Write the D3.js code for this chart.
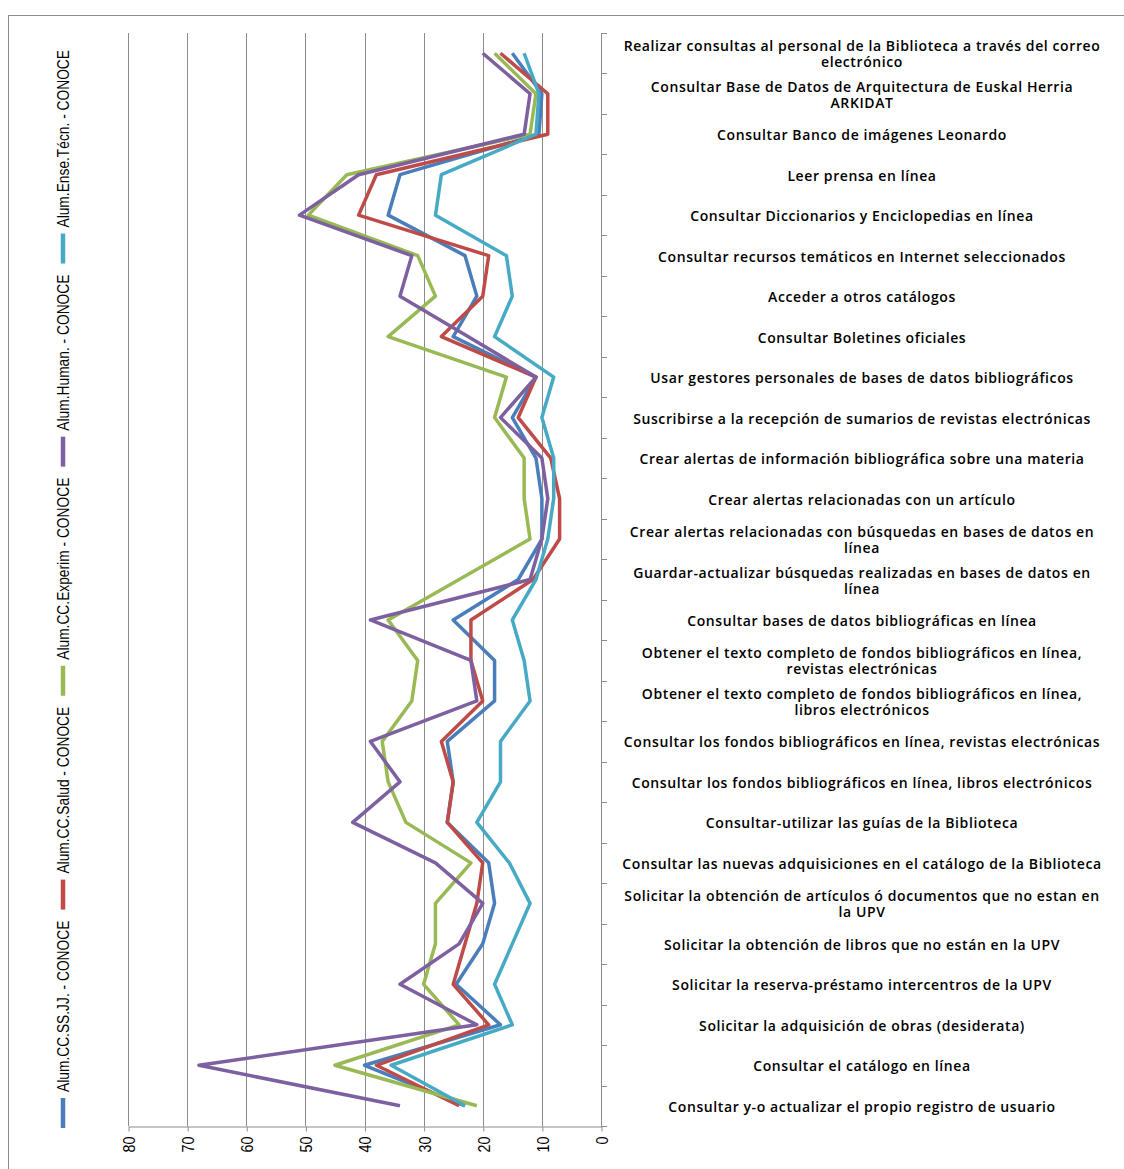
<!DOCTYPE html>
<html>
<head>
<meta charset="utf-8">
<script src="https://cdn.jsdelivr.net/npm/d3@7"></script>
<style>
  html, body { margin:0; padding:0; background:#fff; }
  svg { display:block; }
</style>
</head>
<body>
<svg width="1124" height="1169"></svg>
<script>
// Categories (top to bottom), line breaks as in the original labels
const categories = [
  'Realizar consultas al personal de la Biblioteca a través del correo\nelectrónico',
  'Consultar Base de Datos de Arquitectura de Euskal Herria\nARKIDAT',
  'Consultar Banco de imágenes Leonardo',
  'Leer prensa en línea',
  'Consultar Diccionarios y Enciclopedias en línea',
  'Consultar recursos temáticos en Internet seleccionados',
  'Acceder a otros catálogos',
  'Consultar Boletines oficiales',
  'Usar gestores personales de bases de datos bibliográficos',
  'Suscribirse a la recepción de sumarios de revistas electrónicas',
  'Crear alertas de información bibliográfica sobre una materia',
  'Crear alertas relacionadas con un artículo',
  'Crear alertas relacionadas con búsquedas en bases de datos en\nlínea',
  'Guardar-actualizar búsquedas realizadas en bases de datos en\nlínea',
  'Consultar bases de datos bibliográficas en línea',
  'Obtener el texto completo de fondos bibliográficos en línea,\nrevistas electrónicas',
  'Obtener el texto completo de fondos bibliográficos en línea,\nlibros electrónicos',
  'Consultar los fondos bibliográficos en línea, revistas electrónicas',
  'Consultar los fondos bibliográficos en línea, libros electrónicos',
  'Consultar-utilizar las guías de la Biblioteca',
  'Consultar las nuevas adquisiciones en el catálogo de la Biblioteca',
  'Solicitar la obtención de artículos ó documentos que no estan en\nla UPV',
  'Solicitar la obtención de libros que no están en la UPV',
  'Solicitar la reserva-préstamo intercentros de la UPV',
  'Solicitar la adquisición de obras (desiderata)',
  'Consultar el catálogo en línea',
  'Consultar y-o actualizar el propio registro de usuario'
];

const seriesNames = [
  'Alum.CC.SS.JJ. - CONOCE',
  'Alum.CC.Salud - CONOCE',
  'Alum.CC.Experim - CONOCE',
  'Alum.Human. - CONOCE',
  'Alum.Ense.Técn. - CONOCE'
];

// Series values, same order as categories
const ssjj    = [15, 10, 10.5, 34, 36, 23, 21, 25, 11, 15, 11, 10, 10, 14, 25, 18, 18, 26, 25, 26, 19, 18, 20, 24.5, 17, 40, 23];
const salud   = [17, 9, 9, 38, 41, 19, 20, 27, 11, 14, 8.5, 7, 7, 11.5, 22, 22, 20, 27, 25, 26, 20, 21, 23, 25, 19, 38, 24];
const experim = [18, 11, 12, 43, 49.5, 31, 28, 36, 16, 18, 13, 13, 12, 24, 36, 31, 32, 37, 36, 33, 22, 28, 28, 30, 24, 45, 21];
const human   = [20, 12, 13, 41, 51, 32, 34, 22.5, 11, 17, 10, 9, 10, 12, 39, 22, 21, 39, 34, 42, 28, 20, 24, 34, 21, 68, 34];
const tecn    = [13, 10.5, 11, 27, 28, 16, 15, 18, 8, 10, 8, 8, 9, 11, 15, 13, 12, 17, 17, 21, 15.5, 12, 15, 18, 15, 35.5, 23];

const xTicks = [0, 10, 20, 30, 40, 50, 60, 70, 80];

const allSeries = [ssjj, salud, experim, human, tecn];
const colors = ['#4A7EBB', '#BE4B48', '#98B954', '#7D60A0', '#46AAC5'];

const svg = d3.select('svg');
const narrow = "'Liberation Sans Narrow', 'Arial Narrow', 'Liberation Sans', sans-serif";
const gridColor = '#8c8c8c';

// Outer frame
svg.append('rect')
   .attr('x', 8.5).attr('y', 15.5)
   .attr('width', 1200).attr('height', 1200)
   .attr('fill', 'none')
   .attr('stroke', gridColor);

// Plot region
const plotL = 128, plotR = 601, plotT = 33, plotB = 1126;

const x = d3.scaleLinear().domain([0, 80]).range([plotR, plotL]);
const y = d3.scaleBand().domain(categories).range([plotT, plotB]);
const yc = c => y(c) + y.bandwidth() / 2;

// Vertical gridlines
svg.append('g')
   .selectAll('line')
   .data(xTicks.filter(t => t > 0))
   .join('line')
   .attr('x1', d => Math.round(x(d)) + 0.5).attr('x2', d => Math.round(x(d)) + 0.5)
   .attr('y1', plotT).attr('y2', plotB)
   .attr('stroke', gridColor)
   .attr('stroke-width', 1);

// Bottom value axis
const xAxis = svg.append('g')
   .attr('transform', 'translate(0.5,' + (plotB + 0.5) + ')')
   .call(d3.axisBottom(x).tickValues(xTicks).tickSize(5).tickSizeOuter(0));
xAxis.select('.domain').attr('stroke', gridColor);
xAxis.selectAll('.tick line').attr('stroke', gridColor);
xAxis.selectAll('.tick text')
   .attr('font-family', narrow)
   .attr('font-size', 16)
   .attr('fill', '#000')
   .attr('text-anchor', 'end')
   .attr('dominant-baseline', 'central')
   .attr('dy', null)
   .attr('y', 0)
   .attr('transform', 'translate(0,10) rotate(-90) scale(0.9,1.05)');

// Right category axis
svg.append('line')
   .attr('x1', plotR + 0.5).attr('x2', plotR + 0.5)
   .attr('y1', plotT).attr('y2', plotB)
   .attr('stroke', gridColor);
const edges = categories.map(c => y(c)).concat([plotB]);
svg.append('g')
   .selectAll('line')
   .data(edges)
   .join('line')
   .attr('x1', plotR).attr('x2', plotR + 6)
   .attr('y1', d => Math.round(d) + 0.5).attr('y2', d => Math.round(d) + 0.5)
   .attr('stroke', gridColor);

// Category labels
const labels = svg.append('g')
   .attr('font-family', "'Open Sans', sans-serif")
   .attr('font-size', 14)
   .attr('font-weight', 600)
   .attr('letter-spacing', '0.6px')
   .attr('fill', '#000')
   .attr('text-anchor', 'middle');
categories.forEach(c => {
  const lines = c.split('\n');
  const lh = 16;
  const y0 = yc(c) - (lines.length - 1) * lh / 2;
  const t = labels.append('text').attr('dominant-baseline', 'central');
  lines.forEach((ln, i) => {
    t.append('tspan').attr('x', 862).attr('y', y0 + i * lh).text(ln);
  });
});

// Lines
const line = d3.line()
   .x(d => x(d.v))
   .y(d => yc(d.c));
allSeries.forEach((vals, i) => {
  svg.append('path')
     .datum(vals.map((v, j) => ({ v, c: categories[j] })))
     .attr('d', line)
     .attr('fill', 'none')
     .attr('stroke', colors[i])
     .attr('stroke-width', 3.5)
     .attr('stroke-linejoin', 'round');
});

// Legend (rotated, reads bottom to top), squeezed to fit the left strip
const legend = svg.append('g').attr('transform', 'translate(63,1128) rotate(-90)');
const markLen = 30, markGap = 6, entryGap = 11, legendLen = 1078;
const texts = seriesNames.map(name => legend.append('text')
   .attr('y', 0)
   .attr('dominant-baseline', 'central')
   .attr('font-family', narrow)
   .attr('font-size', 17)
   .attr('fill', '#000')
   .text(name));
const natural = texts.map(t => t.node().getComputedTextLength());
const room = legendLen - seriesNames.length * (markLen + markGap) - (seriesNames.length - 1) * entryGap;
const k = Math.min(1, room / d3.sum(natural));
let pos = 0;
seriesNames.forEach((name, i) => {
  legend.append('line')
     .attr('x1', pos).attr('x2', pos + markLen)
     .attr('y1', 0).attr('y2', 0)
     .attr('stroke', colors[i])
     .attr('stroke-width', 4.5);
  const w = natural[i] * k;
  texts[i]
     .attr('x', pos + markLen + markGap)
     .attr('textLength', w)
     .attr('lengthAdjust', 'spacingAndGlyphs');
  pos += markLen + markGap + w + entryGap;
});
</script>
</body>
</html>
